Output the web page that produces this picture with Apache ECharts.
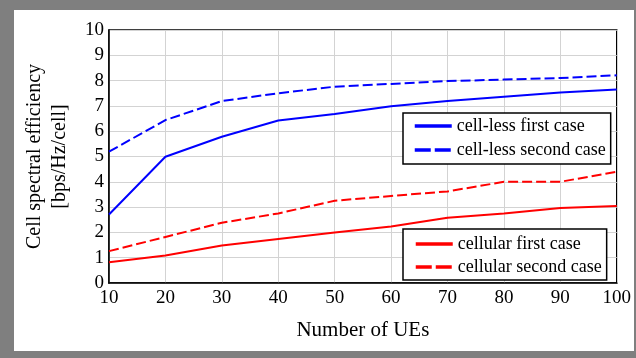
<!DOCTYPE html>
<html>
<head>
<meta charset="utf-8">
<script src="https://cdn.jsdelivr.net/npm/echarts@6/dist/echarts.min.js"></script>
<style>
html,body{margin:0;padding:0;background:#7f7f7f;width:636px;height:358px;overflow:hidden;}
#chart{position:absolute;left:14px;top:10px;width:620px;height:341px;background:#ffffff;}
</style>
</head>
<body>
<div id="chart"></div>
<script>
var numberOfUEs = [10, 20, 30, 40, 50, 60, 70, 80, 90, 100];
var cellLessFirst = [2.71, 4.99, 5.78, 6.42, 6.68, 6.99, 7.19, 7.36, 7.53, 7.65];
var cellLessSecond = [5.19, 6.44, 7.19, 7.50, 7.76, 7.87, 7.98, 8.04, 8.10, 8.21];
var cellularFirst = [0.82, 1.09, 1.48, 1.74, 2.00, 2.23, 2.58, 2.75, 2.96, 3.04];
var cellularSecond = [1.26, 1.82, 2.38, 2.75, 3.25, 3.44, 3.62, 4.00, 4.00, 4.40];
var xTicks = [10, 20, 30, 40, 50, 60, 70, 80, 90, 100];
var yTicks = [0, 1, 2, 3, 4, 5, 6, 7, 8, 9, 10];

function pairs(vals) { return numberOfUEs.map(function (x, i) { return [x, vals[i]]; }); }

var font = "'Liberation Serif', 'Times New Roman', serif";
var chart = echarts.init(document.getElementById('chart'), null, {renderer: 'canvas'});

function mkSeries(name, vals, color, dashed) {
  return {
    name: name, type: 'line', data: pairs(vals), symbol: 'none', showSymbol: false,
    lineStyle: {color: color, width: 2, type: dashed ? [10, 4] : 'solid'},
    itemStyle: {color: color}, z: 3
  };
}

function mkLegend(names, top, pad, gap) {
  return {
    left: 389, top: top, orient: 'vertical',
    data: [
      {name: names[0], lineStyle: {width: 3.5, type: 'solid'}},
      {name: names[1], lineStyle: {width: 3.5, type: [16, 4]}}
    ],
    itemWidth: 37, itemHeight: 14, itemGap: gap,
    itemStyle: {opacity: 0, borderWidth: 0},
    padding: pad,
    borderColor: '#000', borderWidth: 1.5, backgroundColor: '#fff',
    textStyle: {fontFamily: font, fontSize: 18, color: '#000', lineHeight: 18}
  };
}

chart.setOption({
  animation: false,
  textStyle: {fontFamily: font},
  grid: {left: 93, right: 17, top: 20, bottom: 68, show: true, borderColor: '#000', borderWidth: 1.5, backgroundColor: 'transparent'},
  xAxis: {
    type: 'value', min: xTicks[0], max: xTicks[xTicks.length - 1], interval: 10,
    name: 'Number of UEs', nameLocation: 'middle', nameGap: 37,
    nameTextStyle: {fontFamily: font, fontSize: 21, color: '#000'},
    axisLine: {show: true, lineStyle: {color: '#000', width: 1.5}},
    axisTick: {show: false},
    axisLabel: {fontFamily: font, fontSize: 19, color: '#000', margin: 6,
      formatter: function (v) { return xTicks.indexOf(v) >= 0 ? String(v) : ''; }},
    splitLine: {show: true, lineStyle: {color: '#d3d3d3', width: 1}}
  },
  yAxis: {
    type: 'value', min: yTicks[0], max: yTicks[yTicks.length - 1], interval: 1,
    name: 'Cell spectral efficiency\n[bps/Hz/cell]', nameLocation: 'middle', nameGap: 37,
    nameTextStyle: {fontFamily: font, fontSize: 20, color: '#000', lineHeight: 25},
    axisLine: {show: true, lineStyle: {color: '#000', width: 1.5}},
    axisTick: {show: false},
    axisLabel: {fontFamily: font, fontSize: 19, color: '#000', margin: 5,
      formatter: function (v) { return yTicks.indexOf(v) >= 0 ? String(v) : ''; }},
    splitLine: {show: true, lineStyle: {color: '#d3d3d3', width: 1}}
  },
  legend: [
    mkLegend(['cell-less first case', 'cell-less second case'], 103, [4, 5, 5, 10], 6),
    mkLegend(['cellular first case', 'cellular second case'], 219, [6, 5, 4, 11], 5)
  ],
  series: [
    mkSeries('cell-less first case', cellLessFirst, '#0000ff', false),
    mkSeries('cell-less second case', cellLessSecond, '#0000ff', true),
    mkSeries('cellular first case', cellularFirst, '#ff0000', false),
    mkSeries('cellular second case', cellularSecond, '#ff0000', true)
  ]
});
</script>
</body>
</html>
